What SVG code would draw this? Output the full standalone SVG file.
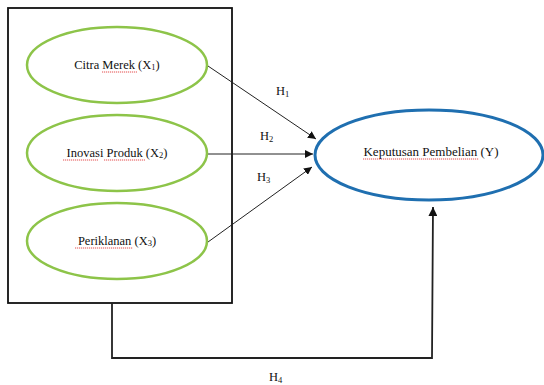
<svg xmlns="http://www.w3.org/2000/svg" width="544" height="385" viewBox="0 0 544 385">
<defs>
<style>
text{font-family:"Liberation Serif","Times New Roman",serif;font-size:12.5px;fill:#111}
.sub{font-size:8.5px}
.g{fill:#fff;stroke:#8dc449;stroke-width:2.5}
.b{fill:#fff;stroke:#1f6fb0;stroke-width:3}
.c{fill:none;stroke:#222;stroke-width:1}
.c2{fill:none;stroke:#222;stroke-width:1.8}
.sq{fill:none;stroke:#d22;stroke-width:0.8;stroke-dasharray:1.2 0.8}
</style>
<marker id="ah" viewBox="0 0 10 10" refX="10" refY="5" markerWidth="8" markerHeight="8" markerUnits="userSpaceOnUse" orient="auto">
<path d="M0,0 L10,5 L0,10 z" fill="#111"/>
</marker>
<marker id="ah2" viewBox="0 0 10 10" refX="10" refY="5" markerWidth="9" markerHeight="9" markerUnits="userSpaceOnUse" orient="auto">
<path d="M0,0 L10,5 L0,10 z" fill="#111"/>
</marker>
</defs>
<rect width="544" height="385" fill="#fff"/>
<g id="box"><rect x="8" y="8" width="224" height="295" fill="none" stroke="#111" stroke-width="1.8"/></g>
<g id="connectors">
<line class="c" x1="208" y1="66" x2="316" y2="139" marker-end="url(#ah)"/>
<line class="c" x1="208" y1="154" x2="313" y2="154" marker-end="url(#ah)"/>
<line class="c" x1="208" y1="242" x2="312" y2="167" marker-end="url(#ah)"/>
<polyline class="c2" points="112,303 112,358 432,358 433,207" marker-end="url(#ah2)"/>
<text x="276" y="95">H<tspan class="sub" dy="2">1</tspan></text>
<text x="260" y="140">H<tspan class="sub" dy="2">2</tspan></text>
<text x="257" y="181">H<tspan class="sub" dy="2">3</tspan></text>
<text x="269" y="381">H<tspan class="sub" dy="2">4</tspan></text>
</g>
<g id="x1">
<ellipse class="g" cx="117" cy="65" rx="90" ry="38"/>
<text x="117" y="69" text-anchor="middle">Citra Merek (X<tspan class="sub" dy="1">1</tspan><tspan dy="-1">)</tspan></text>
<line class="sq" x1="102" y1="72" x2="137" y2="72"/>
</g>
<g id="x2">
<ellipse class="g" cx="117" cy="153" rx="90" ry="38"/>
<text x="117" y="157" text-anchor="middle">Inovasi Produk (X<tspan class="sub" dy="1">2</tspan><tspan dy="-1">)</tspan></text>
<line class="sq" x1="63" y1="160" x2="98" y2="160"/>
<line class="sq" x1="104" y1="160" x2="145" y2="160"/>
</g>
<g id="x3">
<ellipse class="g" cx="117" cy="241" rx="90" ry="38"/>
<text x="117" y="245" text-anchor="middle">Periklanan (X<tspan class="sub" dy="1">3</tspan><tspan dy="-1">)</tspan></text>
<line class="sq" x1="75" y1="248" x2="133" y2="248"/>
</g>
<g id="y">
<ellipse class="b" cx="429" cy="155" rx="114" ry="45"/>
<text x="431" y="156" text-anchor="middle" style="font-size:13px">Keputusan Pembelian (Y)</text>
<line class="sq" x1="363" y1="159" x2="479" y2="159"/>
</g>
</svg>
